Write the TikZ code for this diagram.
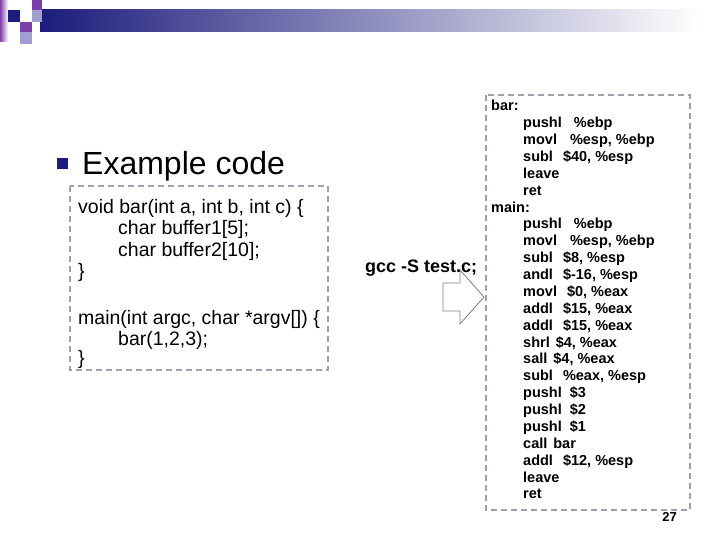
\documentclass[tikz,border=0pt]{standalone}
\usepackage{fontspec}
\setmainfont{Liberation Sans}
\definecolor{navy}{HTML}{1C1C7C}
\definecolor{purp}{HTML}{7B3FA8}
\definecolor{lpurp}{HTML}{A19ED0}
\definecolor{dash}{HTML}{A0A0B0}
\tikzset{
  box/.style={draw=dash,line width=1.2pt,dash pattern=on 6pt off 4pt},
  asm/.style={anchor=base west,inner sep=0pt,font=\fontsize{14.5}{14.5}\selectfont\bfseries},
  code/.style={anchor=base west,inner sep=0pt,font=\fontsize{19.5}{19.5}\selectfont}
}
\begin{document}
\begin{tikzpicture}[x=1pt,y=-1pt]
\useasboundingbox (0,0) rectangle (720,540);
% header
\shade[left color=navy,right color=white] (40,10) rectangle (700,32);
\shade[top color=purp,bottom color=white,shading angle=90] (0,0) rectangle (8,42);
\fill[purp] (32,0) rectangle (42,10);
\fill[navy] (8,10) rectangle (20,22);
\fill[lpurp] (32,10) rectangle (42,22);
\fill[purp] (20,22) rectangle (32,32);
\fill[lpurp] (20,32) rectangle (32,44);
% title
\fill[navy] (57,158) rectangle (68,169) coordinate (bul);
\node[anchor=base west,inner sep=0pt,font=\fontsize{32}{32}\selectfont] (title) at (82,175) {Example code};
% code box
\draw[box] (70,186) rectangle (328,370);
\node[code] (c1) at (78,214) {void bar(int a, int b, int c) \{};
\node[code] (c2) at (118,235) {char buffer1[5];};
\node[code] (c3) at (118,256) {char buffer2[10];};
\node[code] (c4) at (78,277) {\}};
\node[code] (c5) at (78,324) {main(int argc, char *argv[]) \{};
\node[code] (c6) at (118,345) {bar(1,2,3);};
\node[code] (c7) at (78,364) {\}};
% arrow
\draw[gray,line width=0.8pt,fill=white] (443,283) -- (460,283) -- (460,270) -- (484,297) -- (460,324) -- (460,311) -- (443,311) -- cycle;
\coordinate (arr) at (463,297);
\node[anchor=base west,inner sep=0pt,font=\fontsize{18}{18}\selectfont\bfseries] (gcc) at (365,272) {gcc -S test.c;};
% asm box
\draw[box] (486,95) rectangle (690,510);
\foreach \t [count=\i] in {bar:,
  \hspace*{32pt}pushl\hspace{12pt}\%ebp,
  {\hspace*{32pt}movl\hspace{13pt}\%esp, \%ebp},
  {\hspace*{32pt}subl\hspace{10pt}\$40, \%esp},
  \hspace*{32pt}leave,
  \hspace*{32pt}ret,
  main:,
  \hspace*{32pt}pushl\hspace{12pt}\%ebp,
  {\hspace*{32pt}movl\hspace{13pt}\%esp, \%ebp},
  {\hspace*{32pt}subl\hspace{10pt}\$8, \%esp},
  {\hspace*{32pt}andl\hspace{10pt}\$-16, \%esp},
  {\hspace*{32pt}movl\hspace{10pt}\$0, \%eax},
  {\hspace*{32pt}addl\hspace{10pt}\$15, \%eax},
  {\hspace*{32pt}addl\hspace{10pt}\$15, \%eax},
  {\hspace*{32pt}shrl\hspace{6pt}\$4, \%eax},
  {\hspace*{32pt}sall\hspace{6pt}\$4, \%eax},
  {\hspace*{32pt}subl\hspace{10pt}\%eax, \%esp},
  \hspace*{32pt}pushl\hspace{8pt}\$3,
  \hspace*{32pt}pushl\hspace{8pt}\$2,
  \hspace*{32pt}pushl\hspace{8pt}\$1,
  \hspace*{32pt}call\hspace{6pt}bar,
  {\hspace*{32pt}addl\hspace{10pt}\$12, \%esp},
  \hspace*{32pt}leave,
  \hspace*{32pt}ret}
  \node[asm] (a\i) at (491,{94+16.87*\i}) {\t};
\node[anchor=base east,inner sep=0pt,font=\fontsize{13}{13}\selectfont\bfseries] (pg) at (677,521) {27};
\end{tikzpicture}
\end{document}
